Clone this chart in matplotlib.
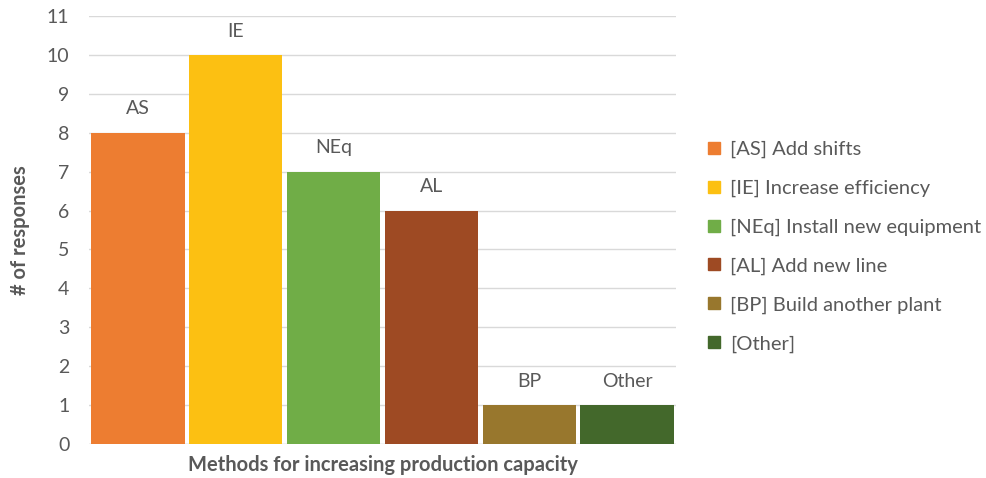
import matplotlib
matplotlib.use("Agg")
import matplotlib.pyplot as plt
from matplotlib.lines import Line2D

codes = ["AS", "IE", "NEq", "AL", "BP", "Other"]
responses = [8, 10, 7, 6, 1, 1]
legend_labels = [
    "[AS] Add shifts",
    "[IE] Increase efficiency",
    "[NEq] Install new equipment",
    "[AL] Add new line",
    "[BP] Build another plant",
    "[Other]",
]
colors = ["#ED7D31", "#FCC012", "#70AD47", "#9E4A23", "#98772D", "#43682B"]
y_ticks = list(range(0, 12))

plt.rcParams["font.family"] = ["Lato", "DejaVu Sans"]
text_color = "#595959"

fig = plt.figure(figsize=(9.87, 4.78), dpi=100)
ax = fig.add_axes([0.090, 0.071, 0.595, 0.8955])

x = list(range(len(codes)))
bars = ax.bar(x, responses, width=0.955, color=colors, zorder=3)

for xi, v, code in zip(x, responses, codes):
    ax.annotate(code, (xi, v), xytext=(0, 11), textcoords="offset points",
                ha="center", va="bottom", fontsize=14, color=text_color)

ax.set_xlim(-0.5, len(codes) - 0.5)
ax.set_ylim(0, 11)
ax.set_yticks(y_ticks)
ax.set_yticklabels([str(t) for t in y_ticks], fontsize=14, color=text_color)
ax.set_xticks([])
ax.tick_params(axis="y", length=0, pad=14)
ax.grid(axis="y", color="#D9D9D9", linewidth=1, zorder=0)
for s in ax.spines.values():
    s.set_visible(False)
ax.axhline(0, color="#D9D9D9", linewidth=1, zorder=1)

ax.set_xlabel("Methods for increasing production capacity", fontsize=14.5,
              fontweight="bold", color=text_color, labelpad=8)
ax.set_ylabel("# of responses", fontsize=14.5, fontweight="bold",
              color=text_color, labelpad=12)

handles = [Line2D([0], [0], marker="s", linestyle="", markersize=9,
                  markerfacecolor=c, markeredgecolor=c) for c in colors]
fig.legend(handles, legend_labels, loc="center left",
           bbox_to_anchor=(0.695, 0.484), frameon=False, fontsize=14.5,
           labelcolor=text_color, handletextpad=0.3, labelspacing=1.07,
           handlelength=1.0)

fig.savefig("out.png", dpi=100)
